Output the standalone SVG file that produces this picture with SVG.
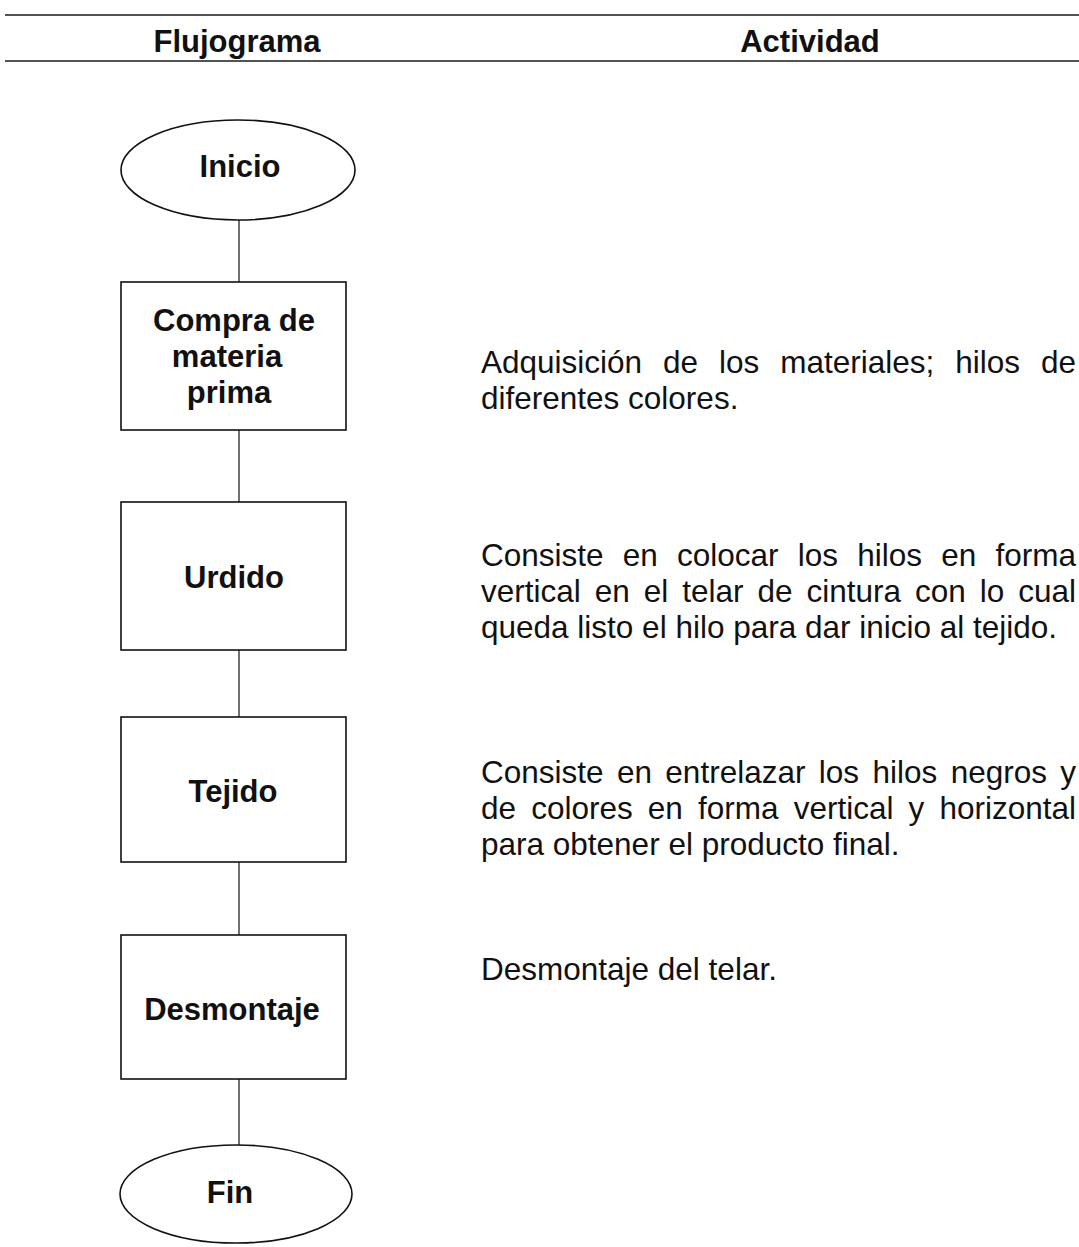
<svg xmlns="http://www.w3.org/2000/svg" width="1079" height="1247" viewBox="0 0 1079 1247">
<style>
.bg{fill:#ffffff}
.rule{stroke:#1a1a1a;stroke-width:1.6;fill:none}
.shape{fill:#ffffff;stroke:#111111;stroke-width:1.6}
.conn{stroke:#222222;stroke-width:1.3;fill:none}
.lbl{font-family:"Liberation Sans",Arial,sans-serif;font-weight:bold;font-size:31px;fill:#111111;text-anchor:middle}
.hdr{font-family:"Liberation Sans",Arial,sans-serif;font-weight:bold;font-size:31px;fill:#111111;text-anchor:middle}
.txt{font-family:"Liberation Sans",Arial,sans-serif;font-size:31.5px;fill:#111111}
</style>
<rect class="bg" x="0" y="0" width="1079" height="1247"/>
<g id="header">
<line class="rule" x1="5" y1="15" x2="1079" y2="15"/>
<line class="rule" x1="5" y1="61" x2="1079" y2="61"/>
<text class="hdr" x="237" y="52">Flujograma</text>
<text class="hdr" x="810" y="52">Actividad</text>
</g>
<g id="connectors">
<line class="conn" x1="239" y1="220" x2="239" y2="282"/>
<line class="conn" x1="239" y1="430" x2="239" y2="502"/>
<line class="conn" x1="239" y1="650" x2="239" y2="717"/>
<line class="conn" x1="239" y1="862" x2="239" y2="935"/>
<line class="conn" x1="239" y1="1079" x2="239" y2="1145"/>
</g>
<g id="node-inicio">
<ellipse class="shape" cx="238" cy="170" rx="117" ry="50"/>
<text class="lbl" x="240" y="177">Inicio</text>
</g>
<g id="node-compra">
<rect class="shape" x="121" y="282" width="225" height="148"/>
<text class="lbl" x="234" y="331">Compra de</text>
<text class="lbl" x="227" y="367">materia</text>
<text class="lbl" x="229" y="403">prima</text>
</g>
<g id="node-urdido">
<rect class="shape" x="121" y="502" width="225" height="148"/>
<text class="lbl" x="234" y="588">Urdido</text>
</g>
<g id="node-tejido">
<rect class="shape" x="121" y="717" width="225" height="145"/>
<text class="lbl" x="233" y="802">Tejido</text>
</g>
<g id="node-desmontaje">
<rect class="shape" x="121" y="935" width="225" height="144"/>
<text class="lbl" x="232" y="1020">Desmontaje</text>
</g>
<g id="node-fin">
<ellipse class="shape" cx="236" cy="1194" rx="116" ry="49"/>
<text class="lbl" x="230" y="1203">Fin</text>
</g>
<g id="actividades">
<text class="txt" x="481" y="373" word-spacing="12.2">Adquisición de los materiales; hilos de</text>
<text class="txt" x="481" y="409">diferentes colores.</text>
<text class="txt" x="481" y="566" word-spacing="10.46">Consiste en colocar los hilos en forma</text>
<text class="txt" x="481" y="602" word-spacing="5.22">vertical en el telar de cintura con lo cual</text>
<text class="txt" x="481" y="638">queda listo el hilo para dar inicio al tejido.</text>
<text class="txt" x="481" y="783" word-spacing="4.63">Consiste en entrelazar los hilos negros y</text>
<text class="txt" x="481" y="819" word-spacing="6.38">de colores en forma vertical y horizontal</text>
<text class="txt" x="481" y="855">para obtener el producto final.</text>
<text class="txt" x="481" y="980">Desmontaje del telar.</text>
</g>
</svg>
